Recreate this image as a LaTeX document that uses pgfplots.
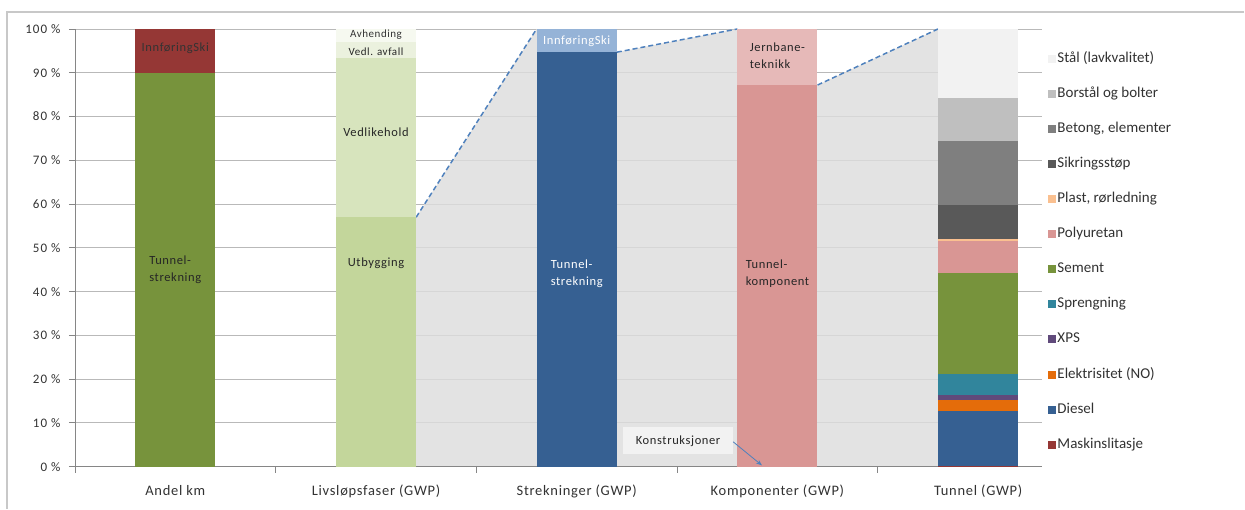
\documentclass[border=0pt]{standalone}
\usepackage{pgfplots}
\pgfplotsset{compat=1.18}
\usepackage{pgfplotstable}
\usepackage{fontspec}
\setmainfont{Carlito}
\newfontfamily\spfont{Carlito}[LetterSpace=5]
\newfontfamily\spwide{Carlito}[LetterSpace=8]
\usetikzlibrary{arrows.meta}

\definecolor{frame}{RGB}{200,200,200}
\definecolor{gridgray}{RGB}{185,185,185}
\definecolor{axisgray}{RGB}{134,134,134}
\definecolor{textgray}{RGB}{50,50,50}
\definecolor{areagray}{RGB}{221,221,221}
\definecolor{dashblue}{RGB}{79,129,189}
\definecolor{cgreen}{RGB}{119,147,60}
\definecolor{cdred}{RGB}{149,55,53}
\definecolor{lg1}{RGB}{195,214,155}
\definecolor{lg2}{RGB}{215,228,189}
\definecolor{lg3}{RGB}{235,241,222}
\definecolor{lg4}{RGB}{246,249,240}
\definecolor{cblue}{RGB}{54,96,146}
\definecolor{lblue}{RGB}{149,179,215}
\definecolor{cpink}{RGB}{217,150,148}
\definecolor{lpink}{RGB}{230,185,184}
\definecolor{stal}{RGB}{242,242,242}
\definecolor{borstal}{RGB}{191,191,191}
\definecolor{betong}{RGB}{127,127,127}
\definecolor{sikring}{RGB}{89,89,89}
\definecolor{plast}{RGB}{250,192,144}
\definecolor{polyur}{RGB}{217,150,148}
\definecolor{sement}{RGB}{119,147,60}
\definecolor{spreng}{RGB}{49,133,156}
\definecolor{xps}{RGB}{96,74,123}
\definecolor{elek}{RGB}{228,108,10}
\definecolor{diesel}{RGB}{54,96,146}
\definecolor{maskin}{RGB}{149,55,53}
\definecolor{callout}{RGB}{242,242,242}

\pgfplotsset{sqlegend/.style={legend image code/.code={\fill[##1] (0pt,-4pt) rectangle (8pt,4pt);}}}
\tikzset{bl/.style={font=\spfont\fontsize{12.5}{17}\selectfont, inner sep=0pt},
         bs/.style={font=\spfont\fontsize{11}{13}\selectfont, inner sep=0pt}}

% columns: A = Andel km, L = Livslopsfaser, S = Strekninger, K = Komponenter, T = Tunnel
\pgfplotstableread{
x  A1 A2 L1 L2   L3  L4  S1   S2  K1   K2   T1  T2   T3  T4  T5  T6   T7  T8  T9  T10  T11  T12
0  90 10 0  0    0   0   0    0   0    0    0   0    0   0   0   0    0   0   0   0    0    0
1  0  0  57 36.3 3.8 2.9 0    0   0    0    0   0    0   0   0   0    0   0   0   0    0    0
2  0  0  0  0    0   0   94.7 5.3 0    0    0   0    0   0   0   0    0   0   0   0    0    0
3  0  0  0  0    0   0   0    0   87.2 12.8 0   0    0   0   0   0    0   0   0   0    0    0
4  0  0  0  0    0   0   0    0   0    0    0.1 12.6 2.5 1.1 4.8 23.2 7.3 0.4 7.7 14.6 10.0 15.7
}\datatable

\begin{document}
\begin{tikzpicture}[x=1pt,y=1pt]
\path (0,0) rectangle (1245,509);
\draw[color=frame, line width=1.5pt] (7,0) -- (7,497) -- (1245,497);

% background axis: grid, grey connector area, dashed lines
\begin{axis}[
  at={(75pt,42pt)}, anchor=south west,
  width=968pt, height=438pt, scale only axis,
  xmin=-0.5, xmax=4.32, ymin=0, ymax=100,
  axis line style={draw=none},
  xtick=\empty, ytick={0,10,...,100}, yticklabels={},
  major tick length=0pt,
  ymajorgrids, grid style={color=gridgray, line width=0.9pt},
]
\addplot[fill=areagray, fill opacity=0.82, draw=none] coordinates {
  (1.2,0) (1.2,57) (1.8,100) (2.2,94.7) (2.8,100) (3.2,87.2) (3.8,100) (3.8,0)} \closedcycle;
\addplot[dashblue, dash pattern=on 5pt off 3pt, line width=1.5pt] coordinates {(1.2,57) (1.8,100)};
\addplot[dashblue, dash pattern=on 5pt off 3pt, line width=1.5pt] coordinates {(2.2,94.7) (2.8,100)};
\addplot[dashblue, dash pattern=on 5pt off 3pt, line width=1.5pt] coordinates {(3.2,87.2) (3.8,100)};
\end{axis}

% foreground axis: stacked bars
\begin{axis}[
  at={(75pt,42pt)}, anchor=south west,
  width=968pt, height=438pt, scale only axis,
  xmin=-0.5, xmax=4.32, ymin=0, ymax=100,
  ybar stacked, bar width=80pt,
  axis lines*=left,
  axis line style={color=axisgray, line width=0.9pt},
  ytick={0,10,...,100},
  yticklabel={\pgfmathprintnumber{\tick}\ \%},
  /pgf/number format/assume math mode=true,
  tick align=outside,
  major tick length=6pt,
  tick style={color=axisgray, line width=0.9pt},
  xtick={-0.5,0.5,1.5,2.5,3.5},
  xticklabels={},
  extra x ticks={0,1,2,3,4},
  extra x tick labels={Andel km, Livsløpsfaser (GWP), Strekninger (GWP), Komponenter (GWP), Tunnel (GWP)},
  extra x tick style={major tick length=0pt,
    xticklabel style={font=\spfont\fontsize{14.5}{14.5}\selectfont, color=textgray, yshift=-15pt}},
  yticklabel style={font=\spwide\fontsize{13}{13}\selectfont, color=textgray, xshift=-5pt},
  reverse legend,
  legend style={at={(1.003,0.954)}, anchor=north west, draw=none, fill=none,
    font=\fontsize{15}{15}\selectfont, text=textgray,
    row sep=20.1pt, nodes={inner sep=1pt, text height=10pt, text depth=3pt},
    /tikz/every even column/.append style={column sep=4pt}},
  legend cell align=left,
  sqlegend,
]
\addplot[fill=cgreen, draw=none, forget plot] table[x=x, y=A1] {\datatable};
\addplot[fill=cdred, draw=none, forget plot] table[x=x, y=A2] {\datatable};
\addplot[fill=lg1, draw=none, forget plot] table[x=x, y=L1] {\datatable};
\addplot[fill=lg2, draw=none, forget plot] table[x=x, y=L2] {\datatable};
\addplot[fill=lg3, draw=none, forget plot] table[x=x, y=L3] {\datatable};
\addplot[fill=lg4, draw=none, forget plot] table[x=x, y=L4] {\datatable};
\addplot[fill=cblue, draw=none, forget plot] table[x=x, y=S1] {\datatable};
\addplot[fill=lblue, draw=none, forget plot] table[x=x, y=S2] {\datatable};
\addplot[fill=cpink, draw=none, forget plot] table[x=x, y=K1] {\datatable};
\addplot[fill=lpink, draw=none, forget plot] table[x=x, y=K2] {\datatable};
\addplot[fill=maskin, draw=none] table[x=x, y=T1] {\datatable};
\addlegendentry{Maskinslitasje}
\addplot[fill=diesel, draw=none] table[x=x, y=T2] {\datatable};
\addlegendentry{Diesel}
\addplot[fill=elek, draw=none] table[x=x, y=T3] {\datatable};
\addlegendentry{Elektrisitet (NO)}
\addplot[fill=xps, draw=none] table[x=x, y=T4] {\datatable};
\addlegendentry{XPS}
\addplot[fill=spreng, draw=none] table[x=x, y=T5] {\datatable};
\addlegendentry{Sprengning}
\addplot[fill=sement, draw=none] table[x=x, y=T6] {\datatable};
\addlegendentry{Sement}
\addplot[fill=polyur, draw=none] table[x=x, y=T7] {\datatable};
\addlegendentry{Polyuretan}
\addplot[fill=plast, draw=none] table[x=x, y=T8] {\datatable};
\addlegendentry{Plast, rørledning}
\addplot[fill=sikring, draw=none] table[x=x, y=T9] {\datatable};
\addlegendentry{Sikringsstøp}
\addplot[fill=betong, draw=none] table[x=x, y=T10] {\datatable};
\addlegendentry{Betong, elementer}
\addplot[fill=borstal, draw=none] table[x=x, y=T11] {\datatable};
\addlegendentry{Borstål og bolter}
\addplot[fill=stal, draw=none] table[x=x, y=T12] {\datatable};
\addlegendentry{Stål (lavkvalitet)}
\end{axis}

% overlay axis: labels inside the bars and the callout
\begin{axis}[
  at={(75pt,42pt)}, anchor=south west,
  width=968pt, height=438pt, scale only axis,
  xmin=-0.5, xmax=4.32, ymin=0, ymax=100,
  hide axis,
]
\node[bl, text=black!80] at (axis cs:0,95.6) {InnføringSki};
\node[bl, text=black!85, align=left] at (axis cs:0,45) {Tunnel-\\strekning};
\node[bs, text=black!80] at (axis cs:1,98.7) {Avhending};
\node[bs, text=black!85] at (axis cs:1,94.8) {Vedl. avfall};
\node[bl, text=black!85] at (axis cs:1,76.5) {Vedlikehold};
\node[bl, text=black!85] at (axis cs:1,46.5) {Utbygging};
\node[bl, text=white] at (axis cs:2,97.2) {InnføringSki};
\node[bl, text=white, align=left] at (axis cs:2,44) {Tunnel-\\strekning};
\node[bl, text=black!85, align=left] at (axis cs:3,93.8) {Jernbane-\\teknikk};
\node[bl, text=black!85, align=left] at (axis cs:3,44) {Tunnel-\\komponent};
\node[bl, fill=callout, text=black!85, minimum width=110pt, minimum height=27pt] at (axis cs:2.505,5.9) {Konstruksjoner};
\draw[-{Stealth[length=6pt]}, color=dashblue, line width=0.8pt] (axis cs:2.779,5.7) -- (axis cs:2.923,0.3);
\end{axis}
\end{tikzpicture}
\end{document}
